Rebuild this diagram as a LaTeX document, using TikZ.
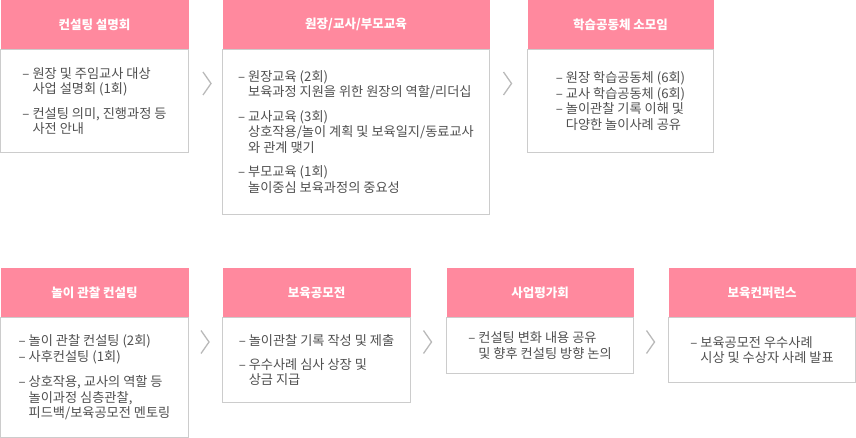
\documentclass[tikz,border=0pt]{standalone}
\usepackage{fontspec}
\setmainfont{Noto Sans CJK KR}
\usepackage{tikz}
\usetikzlibrary{positioning}
\definecolor{headpink}{RGB}{255,137,158}
\definecolor{boxline}{RGB}{204,204,204}
\definecolor{bodytext}{RGB}{80,80,80}
\definecolor{chevgray}{RGB}{185,185,185}
\newcommand{\nextmark}[1]{\draw[chev] (#1) ++(-4,-11.5) -- ++(8,11.5) -- ++(-8,11.5);}
\newcommand{\ind}{\phantom{– }}

\begin{document}
\begin{tikzpicture}[x=1pt,y=-1pt,
        head/.style={fill=headpink, text=white, inner sep=0pt, minimum height=49pt, font=\fontsize{12.5pt}{15pt}\selectfont\bfseries},
        body/.style={draw=boxline, line width=1pt, fill=white, anchor=north west, inner sep=0pt, align=left, text=bodytext, font=\fontsize{13.2pt}{15.5pt}\selectfont},
        chev/.style={chevgray, line width=1.3pt}]
        \useasboundingbox (0,0) rectangle (856,438);
        % First row of steps
        \node[body, minimum width=188pt, minimum height=103pt] (b1) at (0,49) {– 원장 및 주임교사 대상\\ \ind 사업 설명회 (1회)\\[9pt] – 컨설팅 의미, 진행과정 등\\ \ind 사전 안내};
        \node[head, minimum width=188pt, above=-0.5pt of b1] (h1) {컨설팅 설명회};
        \node[body, minimum width=267pt, minimum height=165pt] (b2) at (222,49) {– 원장교육 (2회)\\ \ind 보육과정 지원을 위한 원장의 역할/리더십\\[9pt] – 교사교육 (3회)\\ \ind 상호작용/놀이 계획 및 보육일지/동료교사\\ \ind 와 관계 맺기\\[9pt] – 부모교육 (1회)\\ \ind 놀이중심 보육과정의 중요성};
        \node[head, minimum width=267pt, above=-0.5pt of b2] (h2) {원장/교사/부모교육};
        \node[body, minimum width=186pt, minimum height=103pt] (b3) at (527,49) {– 원장 학습공동체 (6회)\\ – 교사 학습공동체 (6회)\\ – 놀이관찰 기록 이해 및\\ \ind 다양한 놀이사례 공유};
        \node[head, minimum width=186pt, above=-0.5pt of b3] (h3) {학습공동체 소모임};
        \nextmark{207,83.5}
        \nextmark{507.5,83.5}
        % Second row of steps
        \node[body, minimum width=188pt, minimum height=120pt] (b4) at (0,317) {– 놀이 관찰 컨설팅 (2회)\\ – 사후컨설팅 (1회)\\[10pt] – 상호작용, 교사의 역할 등\\ \ind 놀이과정 심층관찰,\\ \ind 피드백/보육공모전 멘토링};
        \node[head, minimum width=188pt, above=-0.5pt of b4] (h4) {놀이 관찰 컨설팅};
        \node[body, minimum width=188pt, minimum height=85pt] (b5) at (222,317) {– 놀이관찰 기록 작성 및 제출\\[8.5pt] – 우수사례 심사 상장 및\\ \ind 상금 지급};
        \node[head, minimum width=188pt, above=-0.5pt of b5] (h5) {보육공모전};
        \node[body, minimum width=187pt, minimum height=56pt] (b6) at (446,317) {– 컨설팅 변화 내용 공유\\ \ind 및 향후 컨설팅 방향 논의};
        \node[head, minimum width=187pt, above=-0.5pt of b6] (h6) {사업평가회};
        \node[body, minimum width=187pt, minimum height=65pt] (b7) at (668,317) {– 보육공모전 우수사례\\ \ind 시상 및 수상자 사례 발표};
        \node[head, minimum width=187pt, above=-0.5pt of b7] (h7) {보육컨퍼런스};
        \nextmark{205,342}
        \nextmark{427.5,342}
        \nextmark{650.5,342}
    \end{tikzpicture}
\end{document}
